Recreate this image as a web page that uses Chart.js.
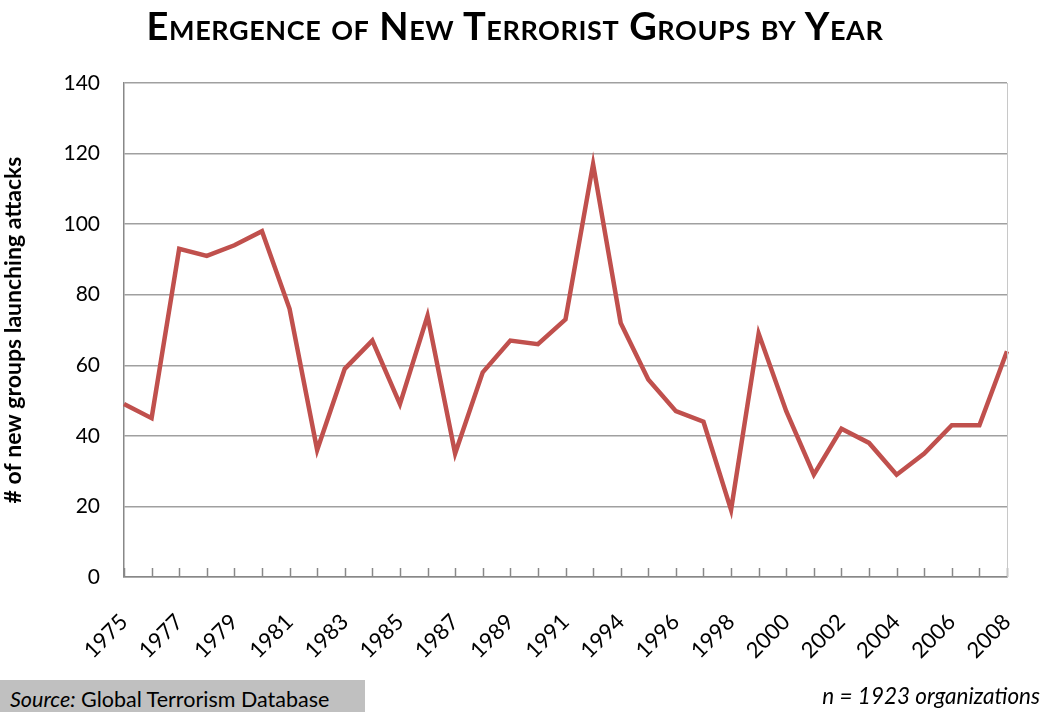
<!DOCTYPE html>
<html>
<head>
<meta charset="utf-8">
<script src="https://cdn.jsdelivr.net/npm/chart.js@4"></script>
<style>
  html, body { margin: 0; padding: 0; background: #fff; }
  #wrap { position: relative; width: 1044px; height: 712px; overflow: hidden; }
  #chart { position: absolute; left: 0; top: 0; }
  #title {
    position: absolute; left: 0; width: 1030px; top: 2px; text-align: center;
    font-family: Lato, "Open Sans", sans-serif; font-weight: bold; font-size: 38px;
    font-variant: small-caps; color: #000; letter-spacing: 0.6px;
  }
  #source {
    position: absolute; left: 0; top: 680px; width: 365px; height: 32px;
    background: #c0c0c0; font-family: Lato, sans-serif; font-size: 21.5px;
    line-height: 38px; padding-left: 10px; box-sizing: border-box; color: #000;
    white-space: nowrap;
  }
  #note {
    position: absolute; right: 4px; top: 682px; font-family: Lato, sans-serif;
    font-size: 22.5px; font-style: italic; color: #000;
  }
</style>
</head>
<body>
<div id="wrap">
  <canvas id="chart" width="1044" height="712"></canvas>
  <div id="title">Emergence of New Terrorist Groups by Year</div>
  <div id="source"><i>Source:</i> Global Terrorism Database</div>
  <div id="note">n = 1923 organizations</div>
</div>
<script>
const years = ['1975', '1976', '1977', '1978', '1979', '1980', '1981', '1982', '1983', '1984',
    '1985', '1986', '1987', '1988', '1989', '1990', '1991', '1992', '1994', '1995',
    '1996', '1997', '1998', '1999', '2000', '2001', '2002', '2003', '2004', '2005',
    '2006', '2007', '2008'];
const newGroups = [49, 45, 93, 91, 94, 98, 76, 36, 59, 67,
    49, 74, 35, 58, 67, 66, 73, 117, 72, 56,
    47, 44, 19, 69, 47, 29, 42, 38, 29, 35,
    43, 43, 64];
const yTicks = [0, 20, 40, 60, 80, 100, 120, 140];

// small tick marks pointing up into the plot, one per category
const innerTicks = {
    id: 'innerTicks',
    afterDatasetsDraw(c) {
        const x = c.scales.x, area = c.chartArea;
        const ctx = c.ctx;
        ctx.save();
        ctx.strokeStyle = '#888';
        ctx.lineWidth = 1.5;
        for (let i = 0; i < years.length; i++) {
            const px = Math.round(x.getPixelForValue(i)) + 0.5;
            ctx.beginPath();
            ctx.moveTo(px, area.bottom);
            ctx.lineTo(px, area.bottom - 9);
            ctx.stroke();
        }
        // right border
        ctx.strokeStyle = '#c8c8c8';
        ctx.lineWidth = 1;
        ctx.beginPath();
        ctx.moveTo(area.right + 0.5, area.top);
        ctx.lineTo(area.right + 0.5, area.bottom);
        ctx.stroke();
        ctx.restore();
    }
};

new Chart(document.getElementById('chart'), {
    type: 'line',
    data: {
        labels: years,
        datasets: [{
            data: newGroups,
            borderColor: '#c0504d',
            borderWidth: 4.5,
            pointRadius: 0,
            tension: 0,
            borderJoinStyle: 'miter'
        }]
    },
    options: {
        responsive: false,
        animation: false,
        layout: { padding: { top: 83, right: 37, left: 0, bottom: 0 } },
        plugins: { legend: { display: false }, tooltip: { enabled: false } },
        scales: {
            x: {
                offset: false,
                grid: { display: false, drawTicks: false },
                border: { color: '#888', width: 1.5 },
                ticks: {
                    autoSkip: false,
                    maxRotation: 45,
                    minRotation: 45,
                    padding: 32,
                    color: '#000',
                    font: { family: 'Lato, sans-serif', size: 22 },
                    callback: (v, i) => (i % 2 === 0 ? years[i] : '')
                },
                afterFit(s) {
                    s.height = 135;
                    s.paddingLeft = 0;
                    s.paddingRight = 0;
                }
            },
            y: {
                min: 0,
                max: 140,
                afterBuildTicks(s) { s.ticks = yTicks.map(v => ({ value: v })); },
                grid: { color: '#a0a0a0', lineWidth: 1.5, drawTicks: false },
                border: { color: '#888', width: 1.5 },
                ticks: {
                    padding: 24,
                    color: '#000',
                    font: { family: 'Lato, sans-serif', size: 21 }
                },
                title: {
                    display: true,
                    text: '# of new groups launching attacks',
                    color: '#000',
                    font: { family: 'Lato, sans-serif', size: 23, weight: 'bold' },
                    padding: { top: 0, bottom: 2 }
                },
                afterFit(s) { s.width = 124; }
            }
        }
    },
    plugins: [innerTicks]
});
</script>
</body>
</html>
